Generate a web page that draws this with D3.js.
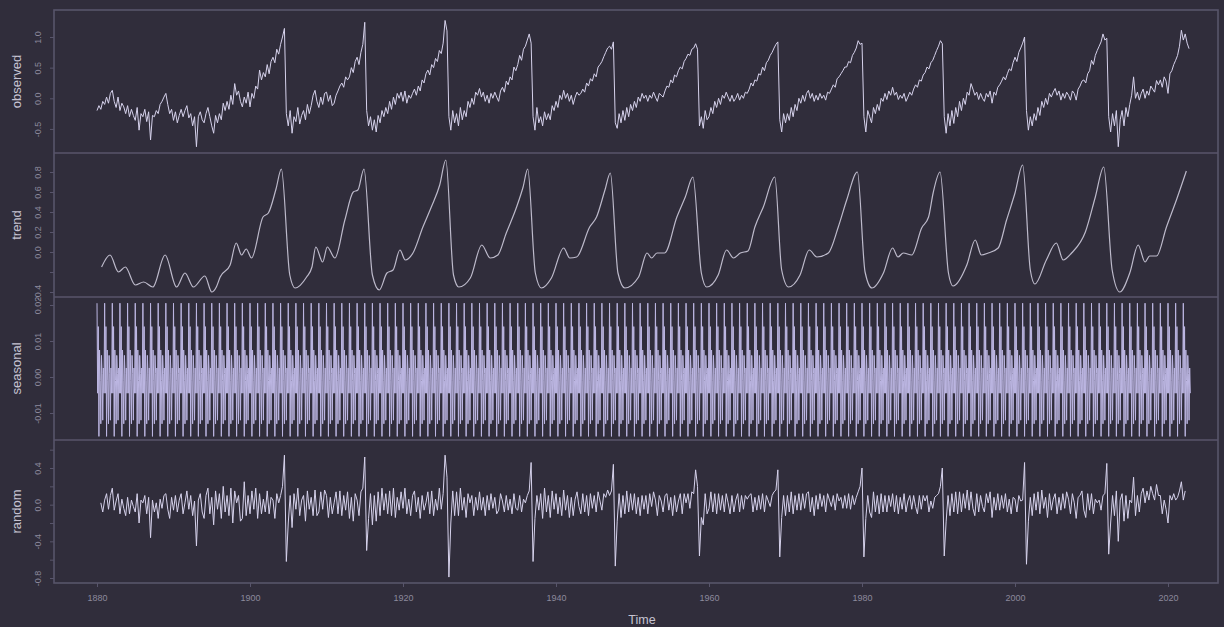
<!DOCTYPE html>
<html>
<head>
<meta charset="utf-8">
<script src="https://cdn.jsdelivr.net/npm/d3@7"></script>
<style>
  html, body { margin: 0; padding: 0; background: #302d3b; }
  svg { display: block; }
  text { font-family: "Liberation Sans", Arial, sans-serif; }
</style>
</head>
<body>
<svg id="chart" width="1224" height="627"></svg>
<script>
// ---------------- DATA ----------------
// observed: quarterly readings, starting 1880.0, step 0.25 year
const observedStart = 1880.0;
const observed = [
 -0.20,-0.12,-0.18,-0.05,
 -0.10,0.02,-0.08,0.08,
 0.13,-0.05,-0.15,0.02,
 -0.20,-0.08,-0.14,-0.25,
 -0.12,-0.30,-0.18,-0.28,
 -0.36,-0.15,-0.52,-0.25,
 -0.30,-0.18,-0.38,-0.22,
 -0.68,-0.28,-0.30,-0.20,
 -0.25,-0.10,-0.05,0.02,
 0.08,-0.10,-0.25,-0.18,
 -0.36,-0.22,-0.40,-0.28,
 -0.18,-0.30,-0.20,-0.12,
 -0.32,-0.25,-0.45,-0.30,
 -0.79,-0.30,-0.22,-0.35,
 -0.40,-0.25,-0.15,-0.30,
 -0.45,-0.57,-0.28,-0.40,
 -0.25,-0.35,-0.08,-0.20,
 -0.05,-0.18,0.05,-0.10,
 0.24,0.05,0.12,-0.05,
 -0.14,0.02,-0.08,0.10,
 -0.14,0.08,0.00,0.20,
 0.15,0.46,0.30,0.42,
 0.35,0.55,0.40,0.60,
 0.67,0.58,0.80,0.72,
 0.88,1.00,1.14,-0.25,
 -0.45,-0.20,-0.57,-0.30,
 -0.38,-0.15,-0.42,-0.28,
 -0.20,-0.35,-0.10,-0.25,
 -0.12,0.05,0.13,-0.05,
 -0.15,0.02,-0.10,0.08,
 0.10,-0.05,0.05,-0.12,
 -0.08,0.05,0.12,0.20,
 0.25,0.18,0.35,0.30,
 0.35,0.50,0.42,0.60,
 0.67,0.55,0.75,0.88,
 1.24,-0.20,-0.45,-0.30,
 -0.52,-0.35,-0.55,-0.28,
 -0.40,-0.20,-0.30,-0.15,
 -0.25,-0.05,-0.18,0.02,
 -0.10,0.08,0.00,0.10,
 -0.05,0.12,-0.08,0.05,
 0.00,0.08,0.15,0.05,
 0.20,0.12,0.30,0.25,
 0.40,0.46,0.38,0.55,
 0.50,0.65,0.60,0.78,
 0.73,0.90,1.27,1.10,
 -0.30,-0.52,-0.20,-0.40,
 -0.25,-0.45,-0.15,-0.35,
 -0.20,-0.30,-0.05,-0.15,
 0.00,-0.10,0.10,0.05,
 0.16,0.02,0.10,-0.05,
 0.05,-0.08,0.08,0.00,
 0.10,0.02,-0.05,0.12,
 0.18,0.10,0.28,0.22,
 0.35,0.30,0.51,0.45,
 0.55,0.70,0.62,0.80,
 0.85,0.95,1.05,0.90,
 -0.30,-0.52,-0.15,-0.40,
 -0.30,-0.45,-0.22,-0.35,
 -0.25,-0.35,-0.12,-0.20,
 -0.05,-0.15,0.05,-0.02,
 0.13,0.00,0.08,-0.05,
 0.05,-0.10,0.02,0.10,
 0.05,0.08,0.15,0.10,
 0.25,0.20,0.32,0.28,
 0.40,0.35,0.51,0.55,
 0.60,0.68,0.75,0.82,
 0.85,0.80,0.92,-0.40,
 -0.49,-0.25,-0.40,-0.20,
 -0.36,-0.15,-0.30,-0.10,
 -0.20,-0.05,-0.15,0.02,
 -0.05,0.08,0.00,0.05,
 -0.05,0.05,0.00,0.10,
 0.02,-0.05,0.08,0.05,
 0.02,0.12,0.20,0.18,
 0.30,0.25,0.38,0.35,
 0.45,0.51,0.48,0.60,
 0.65,0.72,0.70,0.80,
 0.82,0.89,0.80,-0.45,
 -0.30,-0.49,-0.20,-0.35,
 -0.30,-0.15,-0.25,-0.05,
 -0.15,0.00,-0.10,0.05,
 0.00,0.10,0.02,-0.05,
 0.05,-0.05,0.00,0.08,
 -0.03,0.05,0.00,0.10,
 0.08,0.15,0.25,0.20,
 0.30,0.28,0.40,0.38,
 0.51,0.45,0.58,0.62,
 0.70,0.75,0.82,0.88,
 0.92,-0.35,-0.55,-0.25,
 -0.40,-0.25,-0.36,-0.15,
 -0.30,-0.10,-0.20,0.00,
 -0.08,0.05,-0.05,0.08,
 0.13,0.00,0.08,-0.05,
 0.05,-0.03,0.08,0.00,
 0.05,-0.03,0.10,0.08,
 0.15,0.22,0.18,0.32,
 0.35,0.40,0.45,0.51,
 0.51,0.60,0.58,0.70,
 0.75,0.82,0.94,0.88,
 0.90,-0.30,-0.55,-0.20,
 -0.30,-0.40,-0.15,-0.25,
 -0.10,-0.20,0.00,-0.05,
 0.08,-0.02,0.12,0.05,
 0.18,0.05,0.10,-0.02,
 0.05,0.00,0.08,-0.05,
 0.02,0.10,0.05,0.15,
 0.22,0.18,0.30,0.28,
 0.38,0.42,0.51,0.48,
 0.58,0.62,0.70,0.78,
 0.85,0.94,0.89,-0.30,
 -0.57,-0.25,-0.45,-0.20,
 -0.41,-0.15,-0.30,-0.05,
 -0.20,0.00,-0.10,0.10,
 0.05,0.24,0.15,0.05,
 0.10,-0.02,0.08,0.00,
 -0.05,0.08,0.02,0.12,
 -0.08,0.10,0.05,0.18,
 0.22,0.28,0.35,0.30,
 0.40,0.48,0.45,0.58,
 0.67,0.60,0.75,0.82,
 0.90,1.00,-0.20,-0.52,
 -0.30,-0.45,-0.25,-0.36,
 -0.15,-0.28,-0.05,-0.15,
 0.00,-0.10,0.08,0.02,
 0.10,0.16,0.05,0.12,
 -0.03,0.08,0.00,0.10,
 0.05,-0.03,0.12,0.08,
 -0.03,0.15,0.20,0.28,
 0.30,0.25,0.40,0.45,
 0.62,0.55,0.70,0.78,
 0.85,0.92,1.05,0.95,
 0.98,-0.30,-0.55,-0.25,
 -0.45,-0.20,-0.79,-0.35,
 -0.20,-0.45,-0.15,-0.30,
 -0.10,0.05,0.35,0.00,
 0.10,-0.03,0.08,0.15,
 0.00,0.12,0.05,0.20,
 0.15,0.10,0.29,0.22,
 0.30,0.18,0.35,0.28,
 0.08,0.40,0.45,0.55,
 0.62,0.70,0.85,1.11,
 0.95,1.05,0.90,0.81
];

// trend: readings at the turning points of the curve
const trendYears = [
 1880.6,1881.7,1882.8,1883.7,1885.0,1886.1,1887.3,1888.9,1890.4,1891.5,1892.6,1894.1,1895.0,1895.6,1896.1,1897.4,1898.2,1898.9,1899.5,
 1900.2,1901.7,1902.4,1903.4,1904.1,1905.2,1905.9,1907.4,1908.1,1908.6,1909.5,1910.1,1911.1,1912.4,1913.5,1914.1,1914.9,
 1916.0,1916.9,1917.9,1918.7,1919.6,1920.3,1921.3,1922.6,1923.7,1924.8,1925.6,
 1926.6,1927.3,1928.8,1930.3,1931.4,1932.4,1933.5,1934.8,1935.7,1936.3,
 1937.3,1938.1,1939.4,1941.0,1941.8,1942.7,1944.4,1945.3,1946.4,1947.1,
 1948.1,1949.0,1950.8,1951.9,1952.5,1953.2,1954.2,1955.8,1956.9,1957.9,
 1959.0,1959.7,1961.2,1962.3,1963.2,1964.1,1965.1,1966.0,1967.1,1968.6,
 1969.5,1970.4,1971.9,1973.1,1974.1,1975.6,1976.9,1978.0,1979.4,
 1980.4,1981.3,1982.8,1984.0,1984.7,1985.4,1986.5,1987.8,1988.7,1989.3,1990.2,
 1991.3,1991.9,1993.7,1994.8,1995.6,1996.5,1997.8,1998.9,2000.0,2001.0,
 2002.0,2002.6,2004.1,2005.4,2006.3,2007.4,2009.2,2010.5,2011.6,
 2012.7,2013.7,2015.0,2016.1,2017.0,2017.6,2018.5,2019.8,2021.1,2022.4
];
const trendValues = [
 -0.15,-0.03,-0.20,-0.15,-0.33,-0.30,-0.35,-0.03,-0.35,-0.21,-0.35,-0.24,-0.40,-0.35,-0.25,-0.13,0.09,-0.03,0.03,
 -0.06,0.35,0.39,0.63,0.83,-0.23,-0.36,-0.25,-0.15,0.05,-0.10,0.05,-0.06,0.32,0.60,0.62,0.83,
 -0.23,-0.38,-0.21,-0.18,0.02,-0.08,-0.01,0.25,0.45,0.67,0.92,
 -0.23,-0.35,-0.26,0.07,-0.06,-0.03,0.19,0.44,0.65,0.83,
 -0.21,-0.36,-0.26,0.04,-0.06,-0.05,0.25,0.35,0.62,0.79,
 -0.21,-0.36,-0.25,-0.01,-0.06,-0.01,-0.01,0.35,0.55,0.75,
 -0.21,-0.35,-0.23,0.02,-0.06,-0.01,0.01,0.25,0.45,0.75,
 -0.18,-0.35,-0.23,0.02,-0.05,-0.01,0.25,0.52,0.80,
 -0.20,-0.36,-0.21,0.04,-0.05,-0.01,-0.03,0.24,0.35,0.59,0.80,
 -0.21,-0.34,-0.13,0.12,-0.03,-0.01,0.04,0.32,0.59,0.87,
 -0.18,-0.32,-0.08,0.09,-0.08,-0.01,0.20,0.55,0.85,
 -0.18,-0.40,-0.21,0.07,-0.10,-0.04,-0.04,0.25,0.52,0.81
];

// seasonal: one year of monthly figures, repeated every year (1880.0 .. 2022.917)
const seasonalPattern = [0.0205,-0.0045,0.0140,-0.0165,0.0075,-0.0010,-0.0130,0.0060,0.0010,-0.0120,0.0025,-0.0045];
const seasonalStart = 1880.0, seasonalMonths = 1716;

// random: quarterly readings, starting 1880.5, step 0.25 year
const randomStart = 1880.5;
const random = [
 0.02,-0.08,
 0.05,0.12,-0.05,0.10,
 0.18,-0.06,0.04,0.12,
 -0.10,0.06,-0.04,-0.12,
 0.08,-0.10,0.05,-0.02,
 -0.08,0.12,-0.20,0.05,
 0.02,0.10,-0.10,0.08,
 -0.36,0.05,-0.08,0.02,
 -0.15,0.06,-0.04,0.10,
 0.12,-0.05,-0.15,0.08,
 -0.06,0.10,-0.08,0.05,
 0.12,-0.10,0.02,0.15,
 -0.05,0.10,-0.12,0.04,
 -0.45,0.05,0.12,-0.08,
 -0.15,0.10,0.18,-0.10,
 0.08,-0.22,0.15,-0.05,
 0.12,-0.15,0.20,-0.08,
 0.10,-0.12,0.18,-0.20,
 0.15,0.02,0.10,-0.18,
 -0.15,0.25,-0.12,0.10,
 -0.10,0.15,-0.05,0.18,
 -0.15,0.12,-0.10,0.06,
 -0.08,0.15,-0.10,0.08,
 0.05,-0.15,0.12,0.02,
 0.10,0.20,0.54,-0.62,
 -0.20,0.10,-0.25,0.12,
 -0.05,0.18,-0.12,0.05,
 0.10,-0.18,0.15,-0.05,
 0.08,-0.12,0.16,-0.12,
 -0.08,0.14,-0.05,0.16,
 0.10,-0.14,0.08,-0.10,
 0.02,0.14,-0.10,0.15,
 -0.12,0.10,-0.06,0.14,
 -0.15,0.08,-0.18,0.12,
 0.05,-0.12,0.14,0.18,
 0.52,-0.50,-0.15,0.12,
 -0.22,0.10,-0.18,0.14,
 -0.12,0.18,-0.06,0.12,
 -0.10,0.15,-0.12,0.18,
 -0.14,0.08,-0.06,0.14,
 -0.04,0.18,-0.10,0.06,
 -0.12,0.10,0.15,-0.08,
 0.08,-0.15,0.10,-0.06,
 0.02,0.14,-0.10,0.15,
 -0.12,0.06,-0.06,0.18,
 -0.05,0.12,0.54,0.30,
 -0.79,-0.20,0.15,-0.12,
 0.14,-0.12,0.18,-0.06,
 0.08,-0.14,0.12,0.02,
 0.10,-0.12,0.08,-0.06,
 0.14,-0.06,0.08,-0.12,
 0.10,-0.06,0.12,-0.04,
 0.08,-0.10,-0.06,0.12,
 0.04,-0.08,0.10,-0.06,
 0.06,-0.10,0.12,-0.04,
 -0.06,0.10,-0.08,0.06,
 0.02,0.10,0.15,0.46,
 -0.62,-0.15,0.10,-0.06,
 0.12,-0.15,0.18,-0.08,
 0.10,-0.14,0.15,-0.05,
 0.12,-0.10,0.08,-0.12,
 0.16,-0.06,0.10,-0.14,
 0.08,-0.12,0.06,0.14,
 -0.02,-0.10,0.12,-0.08,
 0.10,-0.12,0.12,-0.04,
 0.10,-0.08,0.14,0.04,
 -0.06,0.12,0.08,0.16,
 0.10,0.15,0.44,-0.67,
 -0.18,0.12,-0.14,0.10,
 -0.10,0.15,-0.08,0.12,
 -0.06,0.12,-0.10,0.08,
 -0.12,0.10,-0.05,0.10,
 -0.10,0.12,-0.02,0.14,
 0.05,-0.12,0.10,0.04,
 -0.08,0.10,0.12,-0.06,
 0.08,-0.12,0.10,-0.08,
 0.04,0.12,-0.10,0.12,
 0.02,0.12,-0.04,0.14,
 0.12,0.38,0.20,-0.56,
 -0.14,-0.22,0.12,-0.10,
 -0.04,0.14,-0.08,0.12,
 -0.10,0.12,-0.06,0.10,
 -0.08,0.12,0.02,-0.10,
 0.10,-0.08,0.05,0.12,
 -0.08,0.10,-0.05,0.10,
 0.06,0.10,0.12,-0.08,
 0.08,-0.06,0.10,-0.05,
 0.12,-0.08,0.10,0.04,
 -0.02,0.10,0.14,0.16,
 0.38,-0.57,-0.14,0.10,
 -0.12,0.10,-0.08,0.14,
 -0.10,0.10,-0.06,0.12,
 -0.06,0.12,-0.04,0.12,
 0.14,-0.08,0.08,-0.12,
 0.10,-0.05,0.12,-0.02,
 0.10,-0.08,0.12,0.05,
 -0.02,0.10,-0.06,0.12,
 0.04,0.08,-0.04,0.10,
 -0.04,0.12,-0.05,0.10,
 0.00,0.08,0.14,0.20,
 0.40,-0.57,-0.15,0.10,
 -0.08,-0.14,0.14,-0.08,
 0.10,-0.10,0.12,-0.08,
 0.10,-0.08,0.10,-0.02,
 0.12,-0.08,0.10,-0.10,
 0.08,-0.05,0.12,-0.08,
 0.04,0.10,-0.05,0.10,
 -0.02,-0.10,0.10,-0.05,
 0.10,0.04,0.10,-0.08,
 0.04,-0.04,0.08,0.10,
 0.12,0.20,0.40,-0.56,
 -0.18,0.10,-0.12,0.12,
 -0.08,0.14,-0.10,0.14,
 -0.08,0.12,-0.04,0.16,
 -0.06,0.14,-0.04,-0.12,
 0.12,-0.08,0.10,-0.02,
 -0.08,0.12,0.02,0.14,
 -0.14,0.08,-0.06,0.12,
 -0.06,0.10,-0.04,0.12,
 -0.08,0.06,-0.10,0.08,
 0.06,-0.08,0.10,0.04,
 0.05,0.46,-0.65,-0.18,
 0.08,-0.12,0.12,-0.06,
 0.14,-0.10,0.16,-0.04,
 0.08,-0.14,0.12,-0.06,
 0.06,0.12,-0.10,0.08,
 -0.06,0.12,-0.04,0.14,
 0.06,-0.10,0.12,0.02,
 -0.15,0.08,0.10,0.15,
 -0.06,-0.14,0.12,-0.06,
 0.12,-0.10,0.06,0.02,
 0.05,-0.06,0.10,0.12,
 0.45,-0.54,-0.20,0.10,
 -0.12,0.15,-0.40,0.05,
 0.12,-0.18,0.10,-0.15,
 0.05,0.02,0.30,-0.12,
 0.10,-0.08,0.12,0.18,
 0.02,0.15,0.05,0.20,
 0.12,0.05,0.22,0.10,
 0.10,-0.10,0.05,-0.05,
 -0.20,0.10,0.05,0.12,
 0.05,0.08,0.15,0.25,
 0.05,0.15
];

// axis ticks / labels
const xTicks = [1880, 1900, 1920, 1940, 1960, 1980, 2000, 2020];
const observedTicks = [-0.5, 0.0, 0.5, 1.0];
const observedLabels = ["-0.5", "0.0", "0.5", "1.0"];
const trendTicks = [-0.4, -0.2, 0.0, 0.2, 0.4, 0.6, 0.8];
const trendLabels = ["-0.4", "", "0.0", "0.2", "0.4", "0.6", "0.8"];
const seasonalTicks = [-0.01, 0.00, 0.01, 0.02];
const seasonalLabels = ["-0.01", "0.00", "0.01", "0.02"];
const randomTicks = [-0.8, -0.6, -0.4, -0.2, 0.0, 0.2, 0.4, 0.6];
const randomLabels = ["-0.8", "", "-0.4", "", "0.0", "", "0.4", ""];
const panelNames = ["observed", "trend", "seasonal", "random"];

// ---------------- DRAWING ----------------
const svg = d3.select("#chart");
const W = 1224, H = 627;
const frameL = 54, frameR = 1218;
const panelTops = [10, 153, 297, 440];
const panelBots = [153, 297, 440, 583];

const bg = "#302d3b", frameCol = "#58556b", tickText = "#8c899b", titleCol = "#c6c3d2";
const lineCol = "#d6d2ec";

svg.append("rect").attr("width", W).attr("height", H).attr("fill", bg);

const x = d3.scaleLinear().domain([1880, 2020]).range([97, 1168]);

const yScales = [
  d3.scaleLinear().domain([0, 1]).range([98.3, 37]),
  d3.scaleLinear().domain([0, 0.8]).range([252, 172]),
  d3.scaleLinear().domain([-0.01, 0.02]).range([413, 305]),
  d3.scaleLinear().domain([-0.8, 0.4]).range([578, 468])
];

const seriesObserved = observed.map((v, i) => ({t: observedStart + i * 0.25, v}));
const seriesTrend = trendYears.map((t, i) => ({t, v: trendValues[i]}));
const seriesSeasonal = d3.range(seasonalMonths).map(m => ({t: seasonalStart + m / 12, v: seasonalPattern[m % 12]}));
const seriesRandom = random.map((v, i) => ({t: randomStart + i * 0.25, v}));

const allSeries = [seriesObserved, seriesTrend, seriesSeasonal, seriesRandom];
const tickSets = [[observedTicks, observedLabels], [trendTicks, trendLabels], [seasonalTicks, seasonalLabels], [randomTicks, randomLabels]];

allSeries.forEach((data, p) => {
  const y = yScales[p];
  const g = svg.append("g");
  const line = d3.line().x(d => x(d.t)).y(d => y(d.v));
  if (p === 1) line.curve(d3.curveMonotoneX);
  g.append("path")
    .datum(data)
    .attr("d", line)
    .attr("fill", "none")
    .attr("stroke", p === 2 ? "#bcb6e2" : (p === 1 ? "#bdbacb" : lineCol))
    .attr("stroke-width", p === 2 ? 1.0 : (p === 1 ? 1.2 : 1.0))
    .attr("stroke-linejoin", "round");

  // y axis
  const axis = d3.axisLeft(y).tickValues(tickSets[p][0]).tickSize(4).tickPadding(3)
    .tickFormat((d, i) => tickSets[p][1][i]);
  const ag = svg.append("g").attr("transform", `translate(${frameL},0)`).call(axis);
  ag.select(".domain").remove();
  ag.selectAll(".tick line").attr("stroke", frameCol);
  ag.selectAll(".tick text")
    .attr("fill", tickText).attr("font-size", 9)
    .attr("text-anchor", "middle").attr("dy", null)
    .attr("x", null)
    .attr("transform", "translate(-13,0) rotate(-90)");

  // panel title
  svg.append("text")
    .attr("transform", `translate(21,${(panelTops[p] + panelBots[p]) / 2}) rotate(-90)`)
    .attr("text-anchor", "middle")
    .attr("fill", titleCol).attr("font-size", 13)
    .text(panelNames[p]);
});

// frame and separators
svg.append("rect").attr("x", frameL).attr("y", panelTops[0])
  .attr("width", frameR - frameL).attr("height", panelBots[3] - panelTops[0])
  .attr("fill", "none").attr("stroke", frameCol).attr("stroke-width", 1.6);
[153, 297, 440].forEach(yy => {
  svg.append("line").attr("x1", frameL).attr("x2", frameR).attr("y1", yy).attr("y2", yy)
    .attr("stroke", frameCol).attr("stroke-width", 1.6);
});

// x axis
const xa = svg.append("g").attr("transform", `translate(0,${panelBots[3]})`)
  .call(d3.axisBottom(x).tickValues(xTicks).tickSize(4).tickPadding(8).tickFormat(d3.format("d")));
xa.select(".domain").remove();
xa.selectAll(".tick line").attr("stroke", frameCol);
xa.selectAll(".tick text").attr("fill", tickText).attr("font-size", 9);

svg.append("text").attr("x", 642).attr("y", 624).attr("text-anchor", "middle")
  .attr("fill", titleCol).attr("font-size", 12.5).text("Time");
</script>
</body>
</html>
